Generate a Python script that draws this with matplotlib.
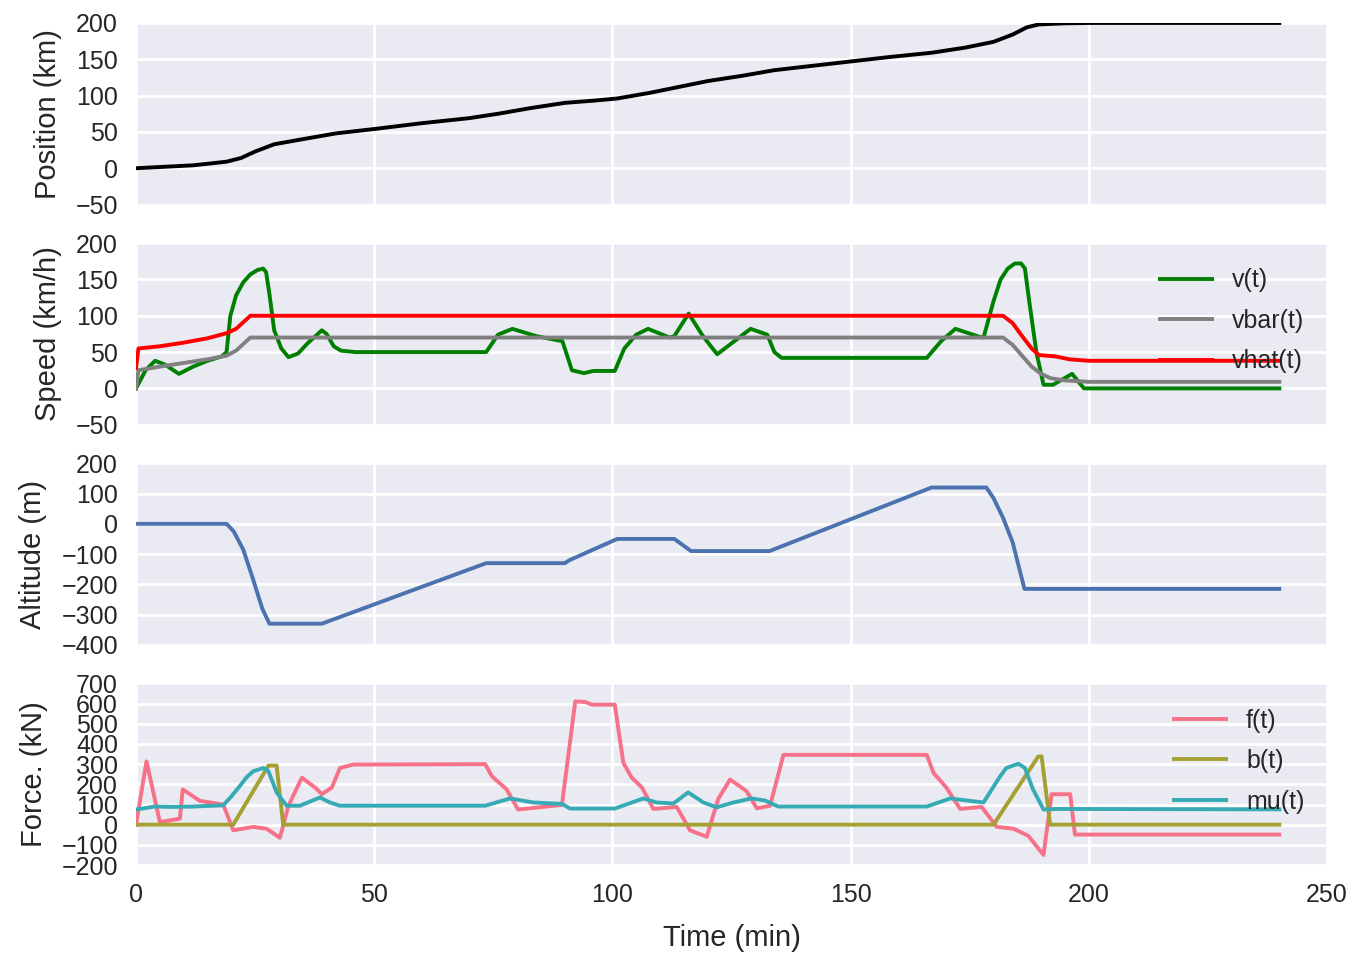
import matplotlib
matplotlib.use("Agg")
import matplotlib.pyplot as plt

# Position (km)
pos_t = [0, 6, 12, 19, 22, 25, 29, 35, 42, 50, 60, 70, 76, 83, 90, 96, 101,
         108, 114, 120, 127, 134, 142, 150, 158, 167, 174, 180, 184, 187,
         189.5, 195, 200, 240]
pos_km = [0, 2, 4, 9, 14, 23, 33, 40, 48, 54, 62, 69, 75, 83, 90, 93, 96,
          104, 112, 120, 127, 135, 141, 147, 153, 159, 166, 174, 184, 194,
          198, 199.5, 200, 200]

# Speed (km/h)
v_t = [0, 2, 4, 6, 9, 12, 15, 18, 19, 19.8, 21, 22.5, 24, 25.5, 26.7, 27.3,
       28, 29, 30.5, 32, 34, 36, 39, 40, 41.5, 43, 46, 73.5, 76, 79, 84,
       89.5, 91.5, 94, 96, 100.5, 102.5, 105, 107.5, 112, 113, 116, 119, 122,
       125, 129, 132.5, 134, 135.5, 166, 169, 172, 177.5, 178, 180, 181.5,
       183, 184.5, 185.8, 186.6, 187.5, 189, 190.5, 192.5, 196.5, 199, 240]
v_kmh = [0, 25, 38, 33, 20, 30, 38, 44, 50, 100, 128, 146, 157, 163, 165, 160,
         130, 80, 55, 43, 48, 62, 80, 75, 58, 52, 50, 50, 74, 82, 72, 65, 25,
         21, 24, 24, 55, 74, 82, 70, 72, 103, 72, 47, 62, 82, 74, 50, 42, 42,
         65, 82, 70, 72, 120, 150, 165, 172, 172, 165, 120, 50, 5, 5, 20, 0, 0]
vbar_t = [0, 0.5, 5, 10, 15, 19, 21, 24, 182, 184, 186, 188, 190, 192, 195,
          200, 240]
vbar_kmh = [0, 25, 30, 35, 40, 45, 52, 70, 70, 60, 45, 30, 20, 14, 11, 9, 9]
vhat_t = [0, 0.5, 5, 10, 15, 19, 21, 24, 182, 184, 186, 188, 189.5, 193, 196,
          200, 240]
vhat_kmh = [28, 55, 58, 63, 69, 76, 82, 100, 100, 90, 72, 55, 46, 44, 40, 38,
            38]

# Altitude (m)
alt_t = [0, 19, 20.5, 22.5, 24.5, 26.5, 28, 39, 73.5, 90, 91, 101, 113,
         116.5, 133, 167, 178.5, 180, 182, 184, 186.5, 240]
alt_m = [0, 0, -25, -85, -180, -280, -330, -330, -130, -130, -120, -50, -50,
         -90, -90, 120, 120, 85, 20, -60, -215, -215]

# Force (kN)
f_t = [0, 2.2, 5, 9.2, 9.8, 13.4, 18.3, 20.4, 24.6, 27.4, 30.2, 32, 34.8,
       37.6, 39, 41.1, 42.8, 45.6, 73.3, 74.7, 77.8, 80.2, 89.4, 92.2, 94.3,
       95.7, 100.5, 102.3, 104, 106.2, 108.6, 113.5, 116.3, 119.8, 122.2,
       124.7, 127.1, 128.2, 130.3, 133.1, 135.9, 166, 167.4, 170.1, 173,
       177.5, 180.7, 184.2, 187.3, 190.5, 192.2, 196.1, 197.1, 240]
f_kn = [0, 314, 13, 30, 175, 118, 100, -28, -11, -20, -65, 94, 233, 184, 151,
        184, 281, 298, 300, 240, 175, 75, 98, 611, 608, 595, 595, 306, 235,
        184, 78, 88, -28, -60, 127, 224, 184, 165, 81, 94, 346, 346, 257, 184,
        78, 88, -11, -20, -55, -150, 151, 151, -49, -49]
b_t = [0, 20.4, 27.8, 29.5, 30.9, 180, 189.4, 190.1, 191.9, 240]
b_kn = [0, 0, 293, 293, 0, 0, 338, 338, 0, 0]
mu_t = [0, 4, 8, 12, 18.3, 20, 21.8, 23.2, 24.6, 26.7, 27.8, 29.5, 31.6,
        34.4, 38.6, 40.7, 42.8, 73.3, 78.5, 83.4, 89.4, 91.1, 100.5, 106.5,
        109.3, 112.8, 115.9, 119.1, 121.9, 125.4, 129.2, 132, 134.8, 166,
        170.9, 177.9, 180, 181.4, 182.7, 185.2, 186.6, 188.3, 190.5, 193.3,
        240]
mu_kn = [75, 90, 88, 90, 96, 140, 192, 235, 265, 281, 265, 160, 94, 94, 135,
         110, 94, 94, 130, 110, 103, 80, 80, 130, 110, 105, 160, 110, 86, 110,
         130, 120, 90, 90, 130, 110, 188, 240, 281, 302, 281, 175, 75, 78, 76]

x_ticks = [0, 50, 100, 150, 200, 250]


def main():
    plt.rcParams["font.family"] = ["Liberation Sans", "DejaVu Sans"]
    plt.rcParams["axes.unicode_minus"] = True
    text_color = "#262626"

    fig, axes = plt.subplots(4, 1, figsize=(13.55, 9.57), dpi=100, sharex=True)
    fig.subplots_adjust(left=0.1004, right=0.9793, top=0.976, bottom=0.0961,
                        hspace=0.2125)

    lw = 2.8
    axes[0].plot(pos_t, pos_km, color="black", lw=lw)
    axes[0].set_ylabel("Position (km)")
    axes[0].set_ylim(-50, 200)
    axes[0].set_yticks([-50, 0, 50, 100, 150, 200])

    axes[1].plot(v_t, v_kmh, color="green", lw=lw, label="v(t)")
    axes[1].plot(vbar_t, vbar_kmh, color="gray", lw=lw, label="vbar(t)")
    axes[1].plot(vhat_t, vhat_kmh, color="red", lw=lw, label="vhat(t)")
    axes[1].set_ylabel("Speed (km/h)")
    axes[1].set_ylim(-50, 200)
    axes[1].set_yticks([-50, 0, 50, 100, 150, 200])

    axes[2].plot(alt_t, alt_m, color="#4c72b0", lw=lw)
    axes[2].set_ylabel("Altitude (m)")
    axes[2].set_ylim(-400, 200)
    axes[2].set_yticks(range(-400, 201, 100))

    axes[3].plot(f_t, f_kn, color="#f77189", lw=lw, label="f(t)")
    axes[3].plot(b_t, b_kn, color="#a4a031", lw=lw, label="b(t)")
    axes[3].plot(mu_t, mu_kn, color="#37abb5", lw=lw, label="mu(t)")
    axes[3].set_ylabel("Force. (kN)")
    axes[3].set_ylim(-200, 700)
    axes[3].set_yticks(range(-200, 701, 100))

    axes[3].set_xlim(0, 250)
    axes[3].set_xticks(x_ticks)
    axes[3].set_xlabel("Time (min)", fontsize=21, color=text_color, labelpad=12)

    for ax in axes:
        ax.set_facecolor("#EAEAF2")
        ax.grid(True, color="white", lw=2)
        ax.set_axisbelow(True)
        for s in ax.spines.values():
            s.set_visible(False)
        ax.tick_params(length=0, labelsize=18, colors=text_color, pad=13)
        ax.yaxis.label.set_size(21)
        ax.yaxis.label.set_color(text_color)
        ax.yaxis.labelpad = 10

    for ax in (axes[1], axes[3]):
        ax.legend(loc="upper right", frameon=False, fontsize=18,
                  labelcolor=text_color, handlelength=2.1, labelspacing=0.66,
                  bbox_to_anchor=(1.0, 0.985))

    fig.savefig("out.png", dpi=100, facecolor="white")
    plt.close(fig)


if __name__ == "__main__":
    main()
